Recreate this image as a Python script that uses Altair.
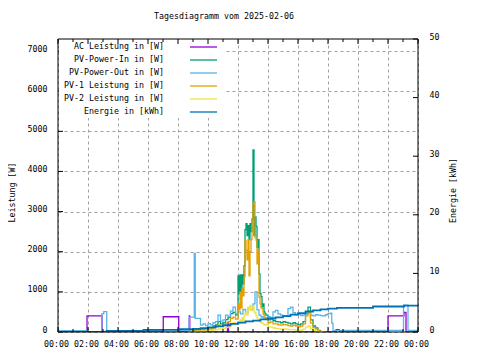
import altair as alt
import pandas as pd

FONT = "DejaVu Sans Mono"
FS = 8.3
W, H = 360, 293

chart_title = "Tagesdiagramm vom 2025-02-06"
series_names = ["AC Leistung in [W]", "PV-Power-In in [W]", "PV-Power-Out in [W]",
                "PV-1 Leistung in [W]", "PV-2 Leistung in [W]", "Energie in [kWh]"]
series_colors = ["#9400d3", "#009e73", "#56b4e9", "#e69f00", "#f0e442", "#0072b2"]

x_tick_hours = [0, 2, 4, 6, 8, 10, 12, 14, 16, 18, 20, 22, 24]
x_minor_hours = [1, 3, 5, 7, 9, 11, 13, 15, 17, 19, 21, 23]
power_ticks = [0, 1000, 2000, 3000, 4000, 5000, 6000, 7000]
energy_ticks = [0, 10, 20, 30, 40, 50]

# AC Leistung (purple)
ac_time = ["00:00", "01:56", "02:56", "07:01", "08:03", "08:45", "08:47", "11:18", "11:22",
           "18:33", "18:45", "22:00", "23:04", "23:12", "24:00"]
ac_watt = [0, 400, 0, 380, 0, 400, 0, 230, 0, 60, 0, 400, 490, 0, 0]

# PV-Power-Out (light blue)
pv_out_time = ["00:00", "01:56", "02:55", "03:03", "03:15", "07:01", "08:03", "08:45", "09:05", "09:09",
               "09:30", "09:40", "09:50", "10:00", "10:10", "10:20", "10:30", "10:40", "10:50", "11:00",
               "11:10", "11:20", "11:30", "11:40", "11:50", "12:00", "12:10", "12:20", "12:30", "12:40",
               "12:50", "13:00", "13:08", "13:16", "13:24", "13:32", "13:40", "13:52", "14:00", "14:10",
               "14:20", "14:30", "14:40", "14:50", "15:00", "15:10", "15:20", "15:30", "15:40", "15:50",
               "16:00", "16:10", "16:20", "16:30", "16:40", "16:50", "17:00", "17:10", "17:20", "17:30",
               "17:40", "17:50", "18:00", "18:10", "18:15", "18:20", "23:02", "23:20", "24:00"]
pv_out_watt = [35, 0, 450, 510, 35, 0, 40, 370, 1960, 340,
               170, 200, 160, 210, 180, 230, 260, 420, 270, 300,
               420, 380, 520, 620, 460, 500, 450, 560, 480, 600,
               560, 700, 1000, 550, 420, 380, 350, 360, 380, 360,
               500, 540, 450, 420, 400, 410, 580, 620, 480, 430,
               440, 410, 420, 480, 510, 420, 400, 430, 420, 410,
               400, 430, 460, 470, 220, 40, 670, 40, 40]

# shared daytime grid for PV-Power-In, PV-1, PV-2
day_time = ["08:40", "08:50", "09:00", "09:10", "09:20", "09:30", "09:40", "09:50", "10:00", "10:10",
            "10:20", "10:30", "10:40", "10:50", "11:00", "11:10", "11:20", "11:30", "11:40", "11:50",
            "12:00", "12:04", "12:08", "12:12", "12:16", "12:20", "12:24", "12:28", "12:32", "12:36",
            "12:40", "12:44", "12:48", "12:52", "12:56", "13:00", "13:04", "13:08", "13:12", "13:16",
            "13:20", "13:24", "13:28", "13:32", "13:36", "13:40", "13:44", "13:48",
            "13:52", "14:00", "14:10", "14:20", "14:30", "14:40", "14:50", "15:00", "15:10", "15:20",
            "15:30", "15:40", "15:50", "16:00", "16:10", "16:20", "16:30", "16:40", "16:50", "17:00",
            "17:10", "17:20", "17:30", "17:40", "17:50"]
pv_in_watt = [0, 20, 40, 50, 60, 70, 60, 90, 110, 100,
              150, 180, 260, 200, 230, 310, 360, 460, 490, 420,
              1400, 950, 1420, 900, 1420, 1200, 1650, 2550, 2700, 2400,
              2650, 2300, 2700, 2500, 2820, 4540, 2400, 2870, 2630, 2100,
              2300, 1450, 960, 880, 630, 700, 500, 450,
              420, 300, 330, 280, 260, 250, 230, 260, 240, 220,
              200, 230, 200, 180, 200, 260, 450, 620, 300, 150,
              100, 40, 10, 0, 0]
pv1_watt = [0, 10, 25, 30, 40, 45, 40, 60, 75, 70,
            100, 130, 170, 140, 160, 220, 260, 340, 370, 320,
            700, 550, 990, 600, 1100, 900, 1370, 2280, 2040, 1800,
            2300, 1400, 2000, 2300, 2700, 3200, 3250, 2360, 2290, 1700,
            2050, 870, 700, 600, 580, 450, 400, 350,
            340, 230, 250, 200, 200, 180, 170, 190, 180, 160,
            150, 170, 150, 130, 150, 200, 400, 480, 220, 110,
            70, 30, 5, 0, 0]
pv2_watt = [0, 5, 10, 15, 20, 20, 25, 30, 35, 40,
            50, 60, 80, 70, 90, 110, 130, 180, 230, 200,
            250, 200, 300, 220, 350, 280, 400, 450, 500, 420,
            620, 560, 660, 540, 600, 650, 500, 480, 400, 350,
            300, 280, 250, 230, 220, 200, 180, 170,
            190, 130, 120, 100, 90, 80, 70, 80, 70, 60,
            60, 60, 50, 40, 50, 70, 120, 150, 80, 40,
            20, 10, 0, 0, 0]

# Energie (kWh, right axis)
energy_time = ["00:00", "03:14", "05:42", "08:06", "09:00", "09:30", "10:00", "10:30", "11:00", "11:30",
               "12:00", "12:30", "13:00", "13:30", "14:00", "14:30", "15:00", "15:30", "16:00", "16:30",
               "17:00", "17:30", "18:00", "18:36", "21:00", "23:04", "24:00"]
energy_kwh = [0.03, 0.2, 0.35, 0.5, 0.55, 0.65, 0.8, 0.95, 1.15, 1.4,
              1.6, 1.8, 1.95, 2.15, 2.3, 2.5, 2.7, 2.95, 3.2, 3.5,
              3.7, 3.85, 4.0, 4.1, 4.35, 4.5, 4.5]


def hours(s):
    h, m = s.split(":")
    return int(h) + int(m) / 60.0


def frame(times, values, col):
    return pd.DataFrame({"t": [hours(s) for s in times], col: values})


xscale = alt.Scale(domain=[0, 24], nice=False, zero=False)
wscale = alt.Scale(domain=[0, 7300], nice=False)
escale = alt.Scale(domain=[0, 50], nice=False)

x_axis = alt.Axis(values=x_tick_hours, grid=True, tickSize=0, labelPadding=12, labelBaseline="middle",
                  labelOffset=-2, labelFlush=False, title=None,
                  labelExpr="(datum.value % 24 < 10 ? '0' : '') + (datum.value % 24) + ':00'")
left_axis = alt.Axis(values=power_ticks, grid=True, tickSize=0, labelPadding=11, labelOffset=-2,
                     labelFlush=False, format="d", title="Leistung [W]", titleX=-46, titleY=153,
                     titleAngle=270, titleAlign="center", titleBaseline="middle")
right_axis = alt.Axis(orient="right", values=energy_ticks, grid=False, tickSize=0, labelPadding=11,
                      labelOffset=-2, labelFlush=False, format="d", title="Energie [kWh]", titleX=35,
                      titleY=151, titleAngle=270, titleAlign="center", titleBaseline="middle")

X = alt.X("t:Q", scale=xscale, axis=x_axis)
LW = 1.3

power_series = [(ac_time, ac_watt), (day_time, pv_in_watt), (pv_out_time, pv_out_watt),
                (day_time, pv1_watt), (day_time, pv2_watt)]

power_layers = []
for k, (tt, vv) in enumerate(power_series):
    power_layers.append(
        alt.Chart(frame(tt, vv, "v")).mark_line(interpolate="step-after", strokeWidth=LW,
                                                 color=series_colors[k], clip=True)
        .encode(x=X, y=alt.Y("v:Q", scale=wscale, axis=left_axis))
    )
left_ticks = alt.Chart(pd.DataFrame({"v": power_ticks})).mark_rule(color="black", strokeWidth=1).encode(
    x=alt.value(0), x2=alt.value(5), y=alt.Y("v:Q", scale=wscale, axis=left_axis))
power_group = alt.layer(*power_layers, left_ticks)

energy_line = alt.Chart(frame(energy_time, energy_kwh, "e")).mark_line(
    interpolate="step-after", strokeWidth=1.8, color=series_colors[5], clip=True).encode(
    x=X, y=alt.Y("e:Q", scale=escale, axis=right_axis))
right_ticks = alt.Chart(pd.DataFrame({"e": energy_ticks})).mark_rule(color="black", strokeWidth=1).encode(
    x=alt.value(W), x2=alt.value(W - 5), y=alt.Y("e:Q", scale=escale, axis=right_axis))
energy_group = alt.layer(energy_line, right_ticks)

legend_df = pd.DataFrame({"name": series_names, "i": list(range(len(series_names)))})
color_enc = alt.Color("name:N", scale=alt.Scale(domain=series_names, range=series_colors), legend=None)
one = pd.DataFrame({"a": [0]})

legend_box = alt.Chart(one).mark_rect(color="white").encode(
    x=alt.value(1), x2=alt.value(167), y=alt.value(1), y2=alt.value(79))
legend_text = alt.Chart(legend_df).transform_calculate(ly="8 + 13 * datum.i").mark_text(
    align="right", baseline="middle", font=FONT, fontSize=FS, color="black").encode(
    x=alt.value(106), y=alt.Y("ly:Q", scale=None, axis=None), text="name:N")
legend_lines = alt.Chart(legend_df).transform_calculate(ly="8 + 13 * datum.i").mark_rule(strokeWidth=LW).encode(
    x=alt.value(132), x2=alt.value(159), y=alt.Y("ly:Q", scale=None, axis=None), color=color_enc)

title_text = alt.Chart(pd.DataFrame({"txt": [chart_title]})).mark_text(
    align="center", baseline="middle", font=FONT, fontSize=FS, color="black").encode(
    x=alt.value(166), y=alt.value(-22), text="txt:N")


def xticks(vals, y0, y1):
    return alt.Chart(pd.DataFrame({"t": vals})).mark_rule(color="black", strokeWidth=1).encode(
        x=X, y=alt.value(y0), y2=alt.value(y1))


border = alt.Chart(one).mark_rect(fillOpacity=0, stroke="black", strokeWidth=1).encode(
    x=alt.value(0), x2=alt.value(W), y=alt.value(0), y2=alt.value(H))

chart = alt.layer(
    power_group, energy_group, legend_box, legend_text, legend_lines, title_text,
    xticks(x_tick_hours, H, H - 5), xticks(x_tick_hours, 0, 5),
    xticks(x_minor_hours, H, H - 3), xticks(x_minor_hours, 0, 3),
    border,
).resolve_scale(y="independent").properties(
    width=W, height=H,
    padding={"left": 50, "top": 31, "right": 54, "bottom": 20},
    autosize=alt.AutoSizeParams(type="none"),
).configure_view(strokeWidth=0).configure_axis(
    labelFont=FONT, labelFontSize=FS, labelColor="black", titleFont=FONT, titleFontSize=FS,
    titleFontWeight="normal", titleColor="black", gridColor="#a0a0a0", gridDash=[3, 3],
    gridWidth=1, domain=False, ticks=False,
)

chart.save("out.html", embed_options={"renderer": "svg", "actions": False})
